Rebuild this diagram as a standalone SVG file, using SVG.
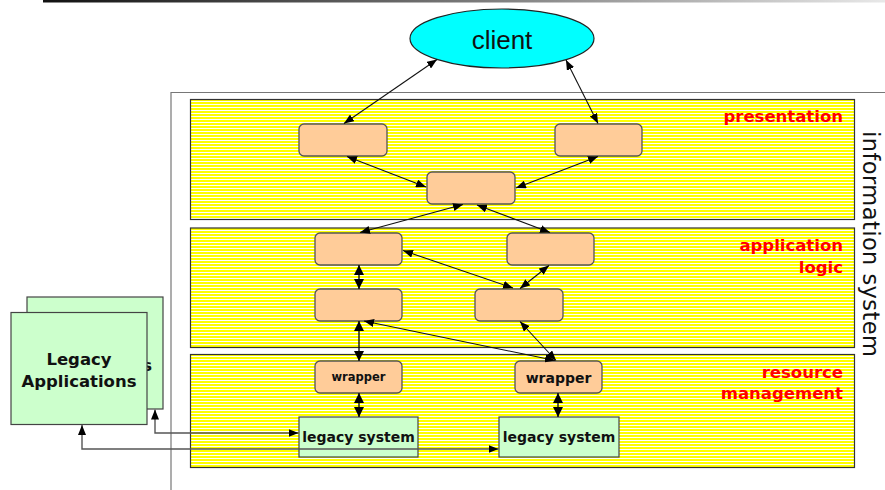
<svg xmlns="http://www.w3.org/2000/svg" width="885" height="490" viewBox="0 0 885 490">
<style>
.layer{fill:url(#stripes);stroke:#333;stroke-width:1.2}
.peach{fill:#FFCC99;stroke:#555;stroke-width:1.3}
.green{fill:#CCFFCC;stroke:#444;stroke-width:1.2}
.lbl{font-family:"DejaVu Sans",Verdana,sans-serif;font-weight:bold;font-size:16.5px;fill:#FF0000;text-anchor:end}
.btxt{font-family:"DejaVu Sans",Verdana,sans-serif;font-weight:bold;fill:#111;text-anchor:middle}
.conn{fill:none;stroke:#111;stroke-width:1.1;marker-start:url(#ah);marker-end:url(#ah)}
.conn2{fill:none;stroke:#555;stroke-width:1.4;marker-start:url(#ah);marker-end:url(#ah)}
.vert{fill:none;stroke:#111;stroke-width:1.4;marker-start:url(#ahb);marker-end:url(#ahb)}
</style>
<defs>
<pattern id="stripes" width="8" height="3" patternUnits="userSpaceOnUse">
<rect width="8" height="3" fill="#FFFF00"/>
<rect y="2" width="8" height="1" fill="#FFFFFF"/>
</pattern>
<linearGradient id="topbar" x1="0" y1="0" x2="1" y2="0">
<stop offset="0" stop-color="#111"/>
<stop offset="0.5" stop-color="#777"/>
<stop offset="1" stop-color="#e8e8e8"/>
</linearGradient>
<marker id="ah" viewBox="0 0 10 8" refX="10" refY="4" markerWidth="10" markerHeight="8" markerUnits="userSpaceOnUse" orient="auto-start-reverse">
<path d="M0,0 L10,4 L0,8 Z" fill="#000"/>
</marker>
<marker id="ahb" viewBox="0 0 10 10" refX="10" refY="5" markerWidth="10" markerHeight="10" markerUnits="userSpaceOnUse" orient="auto-start-reverse">
<path d="M0,0 L10,5 L0,10 Z" fill="#000"/>
</marker>
</defs>
<rect width="885" height="490" fill="#fff"/>
<rect x="43" y="0" width="842" height="2.5" fill="url(#topbar)"/>

<g id="info-system">
<path d="M171,490 V92.5 H885" fill="none" stroke="#777" stroke-width="1.2"/>
<text x="863" y="131" transform="rotate(90 863 131)" font-family="DejaVu Sans, Verdana, sans-serif" font-size="22.5" textLength="226" lengthAdjust="spacing" fill="#111">information system</text>
</g>

<g id="layer-presentation">
<rect class="layer" x="190.5" y="99.5" width="664" height="120"/>
<text class="lbl" x="843" y="122">presentation</text>
</g>
<g id="layer-application">
<rect class="layer" x="190.5" y="228" width="664" height="119.5"/>
<text class="lbl" x="843" y="251">application</text>
<text class="lbl" x="843" y="273">logic</text>
</g>
<g id="layer-resource">
<rect class="layer" x="190.5" y="354.5" width="664" height="113"/>
<text class="lbl" x="843" y="378">resource</text>
<text class="lbl" x="843" y="399">management</text>
</g>

<g id="client">
<ellipse cx="502" cy="38.5" rx="92" ry="29.5" fill="#00FFFF" stroke="#222" stroke-width="1.2"/>
<text x="502" y="49" text-anchor="middle" font-family="Liberation Sans, Arial, sans-serif" font-size="26" fill="#111">client</text>
</g>

<g id="p1"><rect class="peach" x="299" y="124" width="88" height="32" rx="5"/></g>
<g id="p2"><rect class="peach" x="555" y="124" width="87" height="32" rx="5"/></g>
<g id="p3"><rect class="peach" x="427" y="172" width="88" height="32" rx="5"/></g>
<g id="a1"><rect class="peach" x="315" y="233" width="87" height="32" rx="5"/></g>
<g id="a2"><rect class="peach" x="507" y="233" width="87" height="32" rx="5"/></g>
<g id="a3"><rect class="peach" x="315" y="289" width="87" height="32" rx="5"/></g>
<g id="a4"><rect class="peach" x="475" y="289" width="88" height="32" rx="5"/></g>
<g id="w1"><rect class="peach" x="315" y="361" width="87" height="32" rx="5"/>
<text class="btxt" x="358.5" y="381" font-size="11.5">wrapper</text></g>
<g id="w2"><rect class="peach" x="515" y="361" width="87" height="32" rx="5"/>
<text class="btxt" x="558.5" y="382.5" font-size="14">wrapper</text></g>
<g id="l1"><rect class="green" x="299" y="417" width="119" height="40"/>
<text class="btxt" x="358.5" y="442" font-size="14">legacy system</text></g>
<g id="l2"><rect class="green" x="499" y="417" width="120" height="40"/>
<text class="btxt" x="559" y="442" font-size="14">legacy system</text></g>

<g id="legacy-apps-back">
<rect class="green" x="27" y="297" width="136" height="112"/>
<text class="btxt" x="152" y="371" font-size="16.5" style="text-anchor:end">s</text>
</g>
<g id="legacy-apps">
<rect class="green" x="11" y="312.5" width="136" height="112"/>
<text class="btxt" x="79" y="365" font-size="16.5">Legacy</text>
<text class="btxt" x="79" y="387" font-size="16.5">Applications</text>
</g>

<g id="connectors">
<line class="conn" x1="437" y1="59.5" x2="344" y2="123.5"/>
<line class="conn" x1="566" y1="60" x2="598" y2="123.5"/>
<line class="conn" x1="347" y1="156.5" x2="426" y2="187"/>
<line class="conn" x1="598" y1="156.5" x2="516" y2="188"/>
<line class="conn" x1="463" y1="204.5" x2="360" y2="232.5"/>
<line class="conn" x1="477" y1="205" x2="550" y2="232.5"/>
<line class="vert" x1="359" y1="265" x2="359" y2="289"/>
<line class="conn" x1="549" y1="265.5" x2="520" y2="288.5"/>
<line class="conn" x1="403" y1="250.5" x2="513" y2="288"/>
<line class="vert" x1="359" y1="321" x2="359" y2="361"/>
<line class="conn" x1="364" y1="321" x2="555" y2="360.5"/>
<line class="conn" x1="520" y1="321.5" x2="556" y2="360.5"/>
<line class="vert" x1="359" y1="393" x2="359" y2="417"/>
<line class="vert" x1="558" y1="393" x2="558" y2="417"/>
<polyline class="conn2" points="155,409.5 155,433 298.5,433"/>
<polyline class="conn2" points="82,425 82,449 498.5,449"/>
</g>
</svg>
